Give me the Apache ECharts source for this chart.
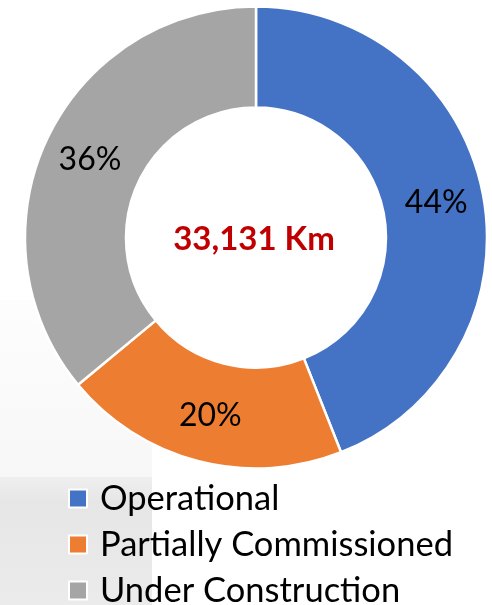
<!DOCTYPE html>
<html>
<head>
<meta charset="utf-8">
<script src="https://cdn.jsdelivr.net/npm/echarts@6/dist/echarts.min.js"></script>
<style>
html,body{margin:0;padding:0;background:#fff;}
#chart{width:492px;height:605px;}
</style>
</head>
<body>
<div id="chart"></div>
<script>
var categories = ['Operational', 'Partially Commissioned', 'Under Construction'];
var shares = [44, 20, 36];
var colors = ['#4472C4', '#ED7D31', '#A5A5A5'];
var centerText = '33,131 Km';

var chart = echarts.init(document.getElementById('chart'));
var data = categories.map(function (c, i) {
  return { name: c, value: shares[i], itemStyle: { color: colors[i] } };
});
chart.setOption({
  backgroundColor: '#ffffff',
  animation: false,
  graphic: [
    { type: 'rect', z: -10, shape: { x: 0, y: 300, width: 152, height: 177 },
      style: { fill: new echarts.graphic.LinearGradient(0, 0, 0, 1, [{ offset: 0, color: '#fdfdfd' }, { offset: 1, color: '#f7f7f7' }]) } },
    { type: 'rect', z: -10, shape: { x: 0, y: 477, width: 152, height: 128 },
      style: { fill: new echarts.graphic.LinearGradient(0, 0, 0, 1, [{ offset: 0, color: '#efefef' }, { offset: 0.2, color: '#e6e6e6' }, { offset: 1, color: '#ebebeb' }]) } },
    { type: 'text', z: 10,
      style: { text: centerText, x: 254, y: 239, textAlign: 'center', textVerticalAlign: 'middle',
        fill: '#C00000', font: 'bold 33px Lato' } }
  ],
  legend: {
    orient: 'vertical',
    left: 63,
    top: 476,
    height: 160,
    icon: 'rect',
    itemWidth: 18,
    itemHeight: 18,
    itemGap: 11,
    itemStyle: { borderColor: '#ffffff', borderWidth: 2 },
    textStyle: { fontFamily: 'Lato', fontSize: 34.5, color: '#000', lineHeight: 35, padding: [0, 0, 0, 8] },
    data: categories
  },
  series: [{
    type: 'pie',
    center: [256, 237.5],
    radius: [130, 231],
    startAngle: 90,
    clockwise: true,
    avoidLabelOverlap: false,
    itemStyle: { borderColor: '#ffffff', borderWidth: 2.5 },
    label: {
      show: true,
      position: 'inside',
      formatter: '{d}%',
      fontFamily: 'Lato',
      fontSize: 32,
      color: '#000'
    },
    labelLine: { show: false },
    emphasis: { disabled: true },
    data: data
  }]
});
</script>
</body>
</html>
